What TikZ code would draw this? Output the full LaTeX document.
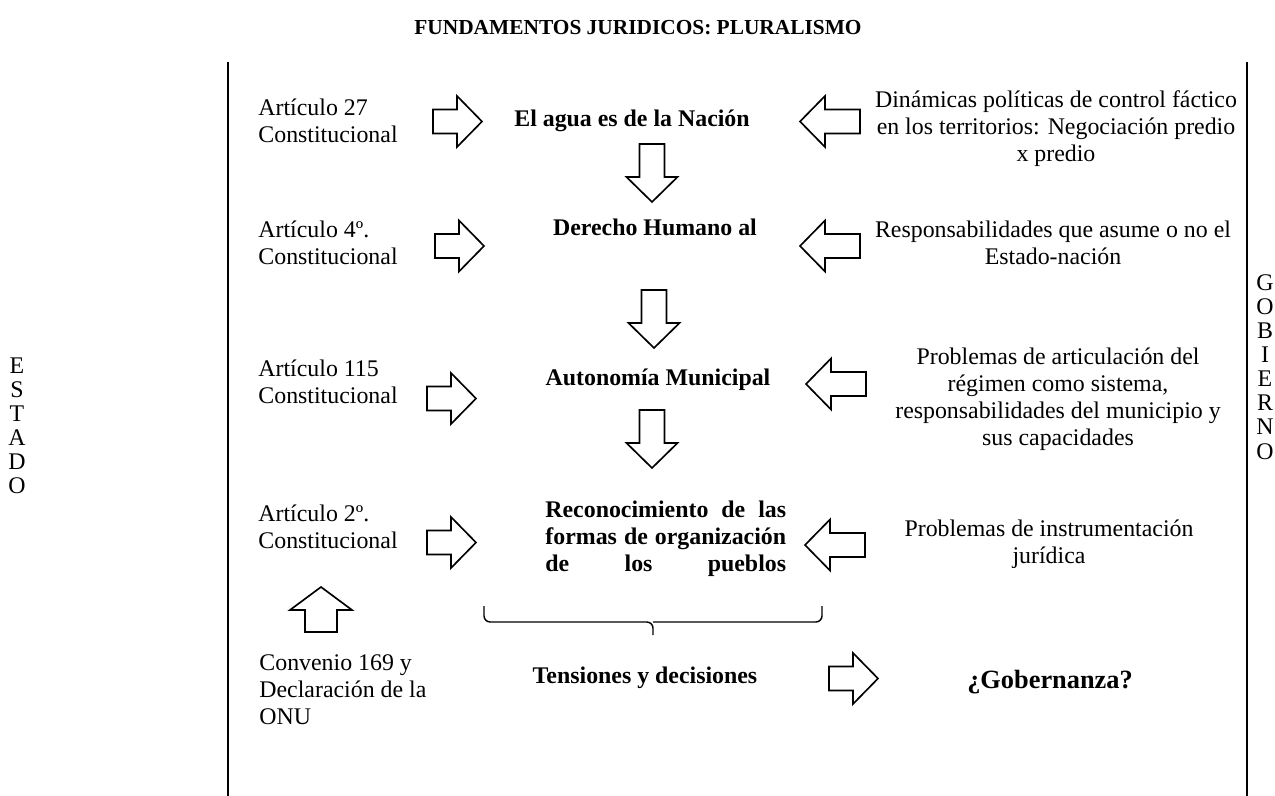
\documentclass[tikz,border=0pt]{standalone}
\usepackage{fontspec}
\setmainfont{Liberation Serif}

\tikzset{
  flecha/.style={draw, line width=0.8pt, line join=miter},
  izq/.style={anchor=west, align=left, inner sep=0pt},
  cen/.style={align=center, inner sep=0pt},
  negrita/.style={font=\fontsize{11.5}{13}\selectfont\bfseries},
  letras/.style={align=center, inner sep=0pt, font=\fontsize{11.5}{11.6}\selectfont},
  % flechas huecas
  fder/.pic={\draw[flecha] (-24,-12) -- (0,-12) -- (0,-25.5) -- (25,0) -- (0,25.5) -- (0,12) -- (-24,12) -- cycle;},
  fizq/.pic={\draw[flecha] (35,-12) -- (0,-12) -- (0,-25.5) -- (-25,0) -- (0,25.5) -- (0,12) -- (35,12) -- cycle;},
  fabajo/.pic={\draw[flecha] (-12.5,-33) -- (-12.5,0) -- (-25.5,0) -- (0,25) -- (25.5,0) -- (12.5,0) -- (12.5,-33) -- cycle;},
  farriba/.pic={\draw[flecha] (-16,22) -- (-16,0) -- (-31,0) -- (0,-23) -- (31,0) -- (16,0) -- (16,22) -- cycle;}
}

\begin{document}
\begin{tikzpicture}[x=0.016933cm, y=-0.016933cm, font=\fontsize{11.5}{13}\selectfont]
\useasboundingbox (0,0) rectangle (1275,796);

\node[cen, font=\fontsize{10.3}{12}\selectfont\bfseries] (titulo) at (638,28) {FUNDAMENTOS JURIDICOS: PLURALISMO};

% marco
\draw[line width=1pt] (228,62) -- (228,796);
\draw[line width=1pt] (1247,62) -- (1247,796);
\node[letras] (estado) at (17,426) {E\\S\\T\\A\\D\\O};
\node[letras] (gobierno) at (1265,367) {G\\O\\B\\I\\E\\R\\N\\O};

% columna izquierda
\node[izq] (art27) at (258,121) {Artículo 27\\Constitucional};
\node[izq] (art4) at (258,243) {Artículo 4º.\\Constitucional};
\node[izq] (art115) at (258,382) {Artículo 115\\Constitucional};
\node[izq] (art2) at (258,527) {Artículo 2º.\\Constitucional};
\node[izq] (convenio) at (259,690) {Convenio 169 y\\Declaración de la\\ONU};

\pic (d1) at (457,121.5) {fder};
\pic (d2) at (459,246) {fder};
\pic (d3) at (451,398.5) {fder};
\pic (d4) at (451,542.5) {fder};
\pic (u1) at (321,610) {farriba};

% columna central
\node[negrita, cen] (agua) at (632,121) {El agua es de la Nación};
\node[negrita, cen] (derecho) at (655,227) {Derecho Humano al};
\node[negrita, cen] (autonomia) at (658,380) {Autonomía Municipal};
\node[negrita, izq] (reconoce) at (545,539) {%
  \makebox[116pt][s]{Reconocimiento de las}\\
  \makebox[116pt][s]{formas de organización}\\
  \makebox[116pt][s]{de los pueblos}};

\pic (b1) at (652,177) {fabajo};
\pic (b2) at (654,323) {fabajo};
\pic (b3) at (652,443) {fabajo};

\draw[line width=0.7pt, rounded corners=3] (484,606) -- (484,622) -- (653,622) -- (653,635);
\draw[line width=0.7pt, rounded corners=3] (822,606) -- (822,622) -- (653,622);

\node[negrita, cen] (tensiones) at (645,678) {Tensiones y decisiones};
\pic (d5) at (853,678.5) {fder};
\node[cen, font=\fontsize{12.7}{14}\selectfont\bfseries] (gobernanza) at (1050,682) {¿Gobernanza?};

% columna derecha
\pic (i1) at (825,121.5) {fizq};
\pic (i2) at (825,246) {fizq};
\pic (i3) at (831,384) {fizq};
\pic (i4) at (830,545) {fizq};

\node[cen] (dinamicas) at (1056,129) {Dinámicas políticas de control fáctico\\en los territorios: Negociación predio\\x predio};
\node[cen] (respons) at (1053,243) {Responsabilidades que asume o no el\\Estado-nación};
\node[cen] (articula) at (1058,399) {Problemas de articulación del\\régimen como sistema,\\responsabilidades del municipio y\\sus capacidades};
\node[cen] (instrumenta) at (1049,544) {Problemas de instrumentación\\jurídica};
\end{tikzpicture}
\end{document}
